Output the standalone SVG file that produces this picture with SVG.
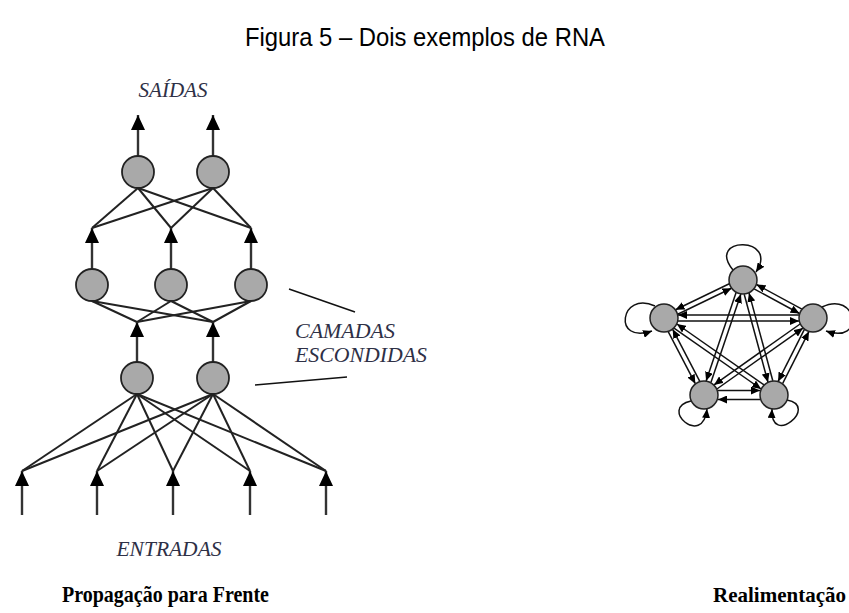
<svg xmlns="http://www.w3.org/2000/svg" width="849" height="613" viewBox="0 0 849 613">
<style>
.title{font-family:"Liberation Sans",Arial,sans-serif;font-size:26px;fill:#000}
.lab{font-family:"Liberation Serif","Times New Roman",serif;font-style:italic;font-size:21px;fill:#2e3046}
.cap{font-family:"Liberation Serif","Times New Roman",serif;font-weight:bold;font-size:23px;fill:#000}
.n{fill:#a9a9a9;stroke:#222;stroke-width:1.8}
.pn{fill:#a9a9a9;stroke:#222;stroke-width:1.5}
.c{stroke:#222;stroke-width:2;fill:none}
.sh{stroke:#333;stroke-width:2.4;fill:none;marker-end:url(#big)}
.p{stroke:#111;stroke-width:1.5;fill:none;marker-end:url(#sm)}
.ptr{stroke:#111;stroke-width:1.5}
</style>
<defs>
<marker id="big" markerUnits="userSpaceOnUse" markerWidth="16" markerHeight="14" refX="15" refY="7" orient="auto">
<path d="M0,0 L15,7 L0,14 z" fill="#000"/>
</marker>
<marker id="sm" markerUnits="userSpaceOnUse" markerWidth="10" markerHeight="8" refX="9" refY="4" orient="auto">
<path d="M0,0 L9,4 L0,8 z" fill="#000"/>
</marker>
</defs>

<text class="title" x="425" y="46" text-anchor="middle" textLength="360" lengthAdjust="spacingAndGlyphs">Figura 5 – Dois exemplos de RNA</text>

<g id="connectors">
<line class="sh" x1="138" y1="156" x2="138" y2="115"/>
<line class="sh" x1="213" y1="156" x2="213" y2="115"/>
<line class="c" x1="138" y1="188" x2="92" y2="228"/>
<line class="c" x1="138" y1="188" x2="171" y2="228"/>
<line class="c" x1="138" y1="188" x2="251" y2="228"/>
<line class="c" x1="213" y1="188" x2="92" y2="228"/>
<line class="c" x1="213" y1="188" x2="171" y2="228"/>
<line class="c" x1="213" y1="188" x2="251" y2="228"/>
<line class="sh" x1="92" y1="269" x2="92" y2="228"/>
<line class="sh" x1="171" y1="269" x2="171" y2="228"/>
<line class="sh" x1="251" y1="269" x2="251" y2="228"/>
<line class="c" x1="92" y1="301" x2="137" y2="322"/>
<line class="c" x1="92" y1="301" x2="213" y2="322"/>
<line class="c" x1="171" y1="301" x2="137" y2="322"/>
<line class="c" x1="171" y1="301" x2="213" y2="322"/>
<line class="c" x1="251" y1="301" x2="137" y2="322"/>
<line class="c" x1="251" y1="301" x2="213" y2="322"/>
<line class="sh" x1="137" y1="362" x2="137" y2="322"/>
<line class="sh" x1="213" y1="362" x2="213" y2="322"/>
<line class="c" x1="137" y1="394" x2="22" y2="471"/>
<line class="c" x1="137" y1="394" x2="97" y2="471"/>
<line class="c" x1="137" y1="394" x2="173" y2="471"/>
<line class="c" x1="137" y1="394" x2="250" y2="471"/>
<line class="c" x1="137" y1="394" x2="326" y2="471"/>
<line class="c" x1="213" y1="394" x2="22" y2="471"/>
<line class="c" x1="213" y1="394" x2="97" y2="471"/>
<line class="c" x1="213" y1="394" x2="173" y2="471"/>
<line class="c" x1="213" y1="394" x2="250" y2="471"/>
<line class="c" x1="213" y1="394" x2="326" y2="471"/>
<line class="sh" x1="22" y1="515" x2="22" y2="471"/>
<line class="sh" x1="97" y1="515" x2="97" y2="471"/>
<line class="sh" x1="173" y1="515" x2="173" y2="471"/>
<line class="sh" x1="250" y1="515" x2="250" y2="471"/>
<line class="sh" x1="326" y1="515" x2="326" y2="471"/>
<line class="ptr" x1="289" y1="289" x2="355" y2="312"/>
<line class="ptr" x1="255" y1="385" x2="347" y2="377"/>

<line class="p" x1="729.3" y1="283.8" x2="675.5" y2="309.7"/>
<line class="p" x1="677.7" y1="314.2" x2="731.5" y2="288.3"/>
<line class="p" x1="754.1" y1="288.9" x2="799.5" y2="313.5"/>
<line class="p" x1="801.9" y1="309.1" x2="756.5" y2="284.5"/>
<line class="p" x1="736.1" y1="292.5" x2="706.1" y2="380.9"/>
<line class="p" x1="710.9" y1="382.5" x2="740.9" y2="294.1"/>
<line class="p" x1="744.2" y1="294.2" x2="768.0" y2="382.2"/>
<line class="p" x1="772.8" y1="380.8" x2="749.0" y2="292.9"/>
<line class="p" x1="678" y1="321" x2="799" y2="321"/>
<line class="p" x1="799" y1="315" x2="678" y2="315"/>
<line class="p" x1="668.2" y1="331.6" x2="695.3" y2="383.7"/>
<line class="p" x1="699.8" y1="381.4" x2="672.7" y2="329.3"/>
<line class="p" x1="674.0" y1="328.1" x2="761.1" y2="389.0"/>
<line class="p" x1="764.0" y1="384.9" x2="676.9" y2="324.0"/>
<line class="p" x1="800.1" y1="324.0" x2="714.0" y2="384.9"/>
<line class="p" x1="716.9" y1="389.0" x2="803.0" y2="328.1"/>
<line class="p" x1="804.4" y1="329.4" x2="778.1" y2="381.4"/>
<line class="p" x1="782.6" y1="383.6" x2="808.9" y2="331.6"/>
<line class="p" x1="718" y1="390.5" x2="760" y2="390.5"/>
<line class="p" x1="760" y1="399.5" x2="718" y2="399.5"/>
<path class="p" d="M733,270 C705,236 780,236 756,272"/>
<path class="p" d="M655,306 C620,290 612,345 652,331"/>
<path class="p" d="M822,307 C857,290 866,345 826,331"/>
<path class="p" d="M691,401 C658,408 703,448 707,409"/>
<path class="p" d="M787,400 C820,406 770,448 772,409"/>
</g>

<g id="out1"><circle class="n" cx="138" cy="172" r="16"/></g>
<g id="out2"><circle class="n" cx="213" cy="172" r="16"/></g>
<g id="h2a"><circle class="n" cx="92" cy="285" r="16"/></g>
<g id="h2b"><circle class="n" cx="171" cy="285" r="16"/></g>
<g id="h2c"><circle class="n" cx="251" cy="285" r="16"/></g>
<g id="h1a"><circle class="n" cx="137" cy="378" r="16"/></g>
<g id="h1b"><circle class="n" cx="213" cy="378" r="16"/></g>

<g id="rT"><circle class="pn" cx="743" cy="280" r="14"/></g>
<g id="rL"><circle class="pn" cx="664" cy="318" r="14"/></g>
<g id="rR"><circle class="pn" cx="813" cy="318" r="14"/></g>
<g id="rBL"><circle class="pn" cx="704" cy="395" r="14"/></g>
<g id="rBR"><circle class="pn" cx="774" cy="395" r="14"/></g>

<g id="labels">
<text class="lab" x="173" y="97" text-anchor="middle" textLength="69" lengthAdjust="spacingAndGlyphs">SAÍDAS</text>
<text class="lab" x="295" y="338" textLength="100" lengthAdjust="spacingAndGlyphs">CAMADAS</text>
<text class="lab" x="295" y="362" textLength="132" lengthAdjust="spacingAndGlyphs">ESCONDIDAS</text>
<text class="lab" x="169" y="556" text-anchor="middle" textLength="105" lengthAdjust="spacingAndGlyphs">ENTRADAS</text>
<text class="cap" x="62" y="602" textLength="207" lengthAdjust="spacingAndGlyphs">Propagação para Frente</text>
<text class="cap" x="846" y="602" text-anchor="end" style="font-size:21px">Realimentação</text>
</g>
</svg>
